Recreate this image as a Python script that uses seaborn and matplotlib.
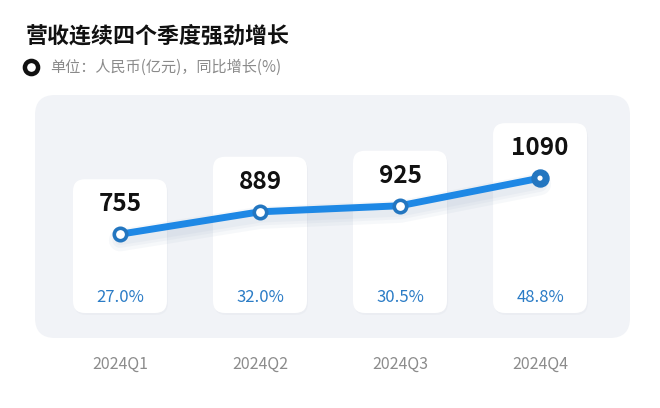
import numpy as np
import pandas as pd
import matplotlib
matplotlib.use('Agg')
import matplotlib.pyplot as plt
import matplotlib.transforms as mtrans
import seaborn as sns
from matplotlib.patches import FancyBboxPatch

quarters = ['2024Q1', '2024Q2', '2024Q3', '2024Q4']
revenue = [755, 889, 925, 1090]
growth = ['27.0%', '32.0%', '30.5%', '48.8%']

title = '营收连续四个季度强劲增长'
subtitle = '单位：人民币(亿元)，同比增长(%)'

sns.set_style('white')
plt.rcParams['font.family'] = ['Noto Sans CJK SC', 'DejaVu Sans']

W, H = 660, 408
fig = plt.figure(figsize=(W/100, H/100), dpi=100)
fig.patch.set_facecolor('white')

# pixel axes for background shapes and header
bg = fig.add_axes([0, 0, 1, 1], zorder=0)
bg.set_xlim(0, W)
bg.set_ylim(H, 0)
bg.axis('off')

# data axes for the line
ax = fig.add_axes([0, 0, 1, 1], zorder=2)
ax.patch.set_alpha(0)
ax.set_xlim(-0.857, 3.857)
ax.set_ylim(-283, 2154)
ax.axis('off')

df = pd.DataFrame({'q': np.arange(len(quarters)), 'rev': revenue})

# header
bg.text(26, 36, title, fontsize=15.8, fontweight='bold', color='#111111',
        va='center', ha='left')
bg.scatter([31], [67], s=90, facecolor='white', edgecolor='#111111',
           linewidth=3.2, zorder=3)
bg.text(50, 67, subtitle, fontsize=10.9, color='#8a8a8a', va='center', ha='left')

# panel
bg.add_patch(FancyBboxPatch((35, 95), 595, 243,
                            boxstyle='round,pad=0,rounding_size=20',
                            facecolor='#f1f3f7', edgecolor='none', zorder=1))

fig.canvas.draw()
for i, v in enumerate(revenue):
    dx, dy = ax.transData.transform((i, v))
    py = H - dy
    top = py - 55
    # soft shadow
    bg.add_patch(FancyBboxPatch((dx - 47 + 1, top + 2), 94, 313 - top,
                                boxstyle='round,pad=0,rounding_size=12',
                                facecolor='#e6e9ef', edgecolor='none',
                                alpha=0.5, zorder=2))
    bg.add_patch(FancyBboxPatch((dx - 47, top), 94, 313 - top,
                                boxstyle='round,pad=0,rounding_size=12',
                                facecolor='white', edgecolor='none', zorder=3))
    bg.text(dx, py - 30, str(v), fontsize=17.5, fontweight='bold',
            color='#111111', ha='center', va='center', zorder=4)
    bg.text(dx, 298, growth[i], fontsize=12, color='#2b7cc6',
            ha='center', va='center', zorder=4)
    bg.text(dx, 364, quarters[i], fontsize=11.5, color='#8c8c8c',
            ha='center', va='center', zorder=4)

# soft line shadow
shift = mtrans.Affine2D().translate(0, -6)
for lw in (16, 11, 7):
    sns.lineplot(data=df, x='q', y='rev', ax=ax, color='#8aa0bd', linewidth=lw,
                 alpha=0.07, legend=False)
    ax.lines[-1].set_transform(ax.transData + shift)
sns.lineplot(data=df, x='q', y='rev', ax=ax, color='#1e88e5', linewidth=5,
             legend=False, solid_capstyle='round')
ax.scatter(df['q'][:3], df['rev'][:3], s=80, facecolor='white',
           edgecolor='#2376c0', linewidth=2.6, zorder=5)
ax.scatter(df['q'][3:], df['rev'][3:], s=150, facecolor='#2376c0',
           edgecolor='#2376c0', linewidth=1, zorder=5)
ax.scatter(df['q'][3:], df['rev'][3:], s=14, facecolor='white',
           edgecolor='none', zorder=6)
ax.set_xlabel('')
ax.set_ylabel('')

fig.savefig('out.png', dpi=100, facecolor='white')
